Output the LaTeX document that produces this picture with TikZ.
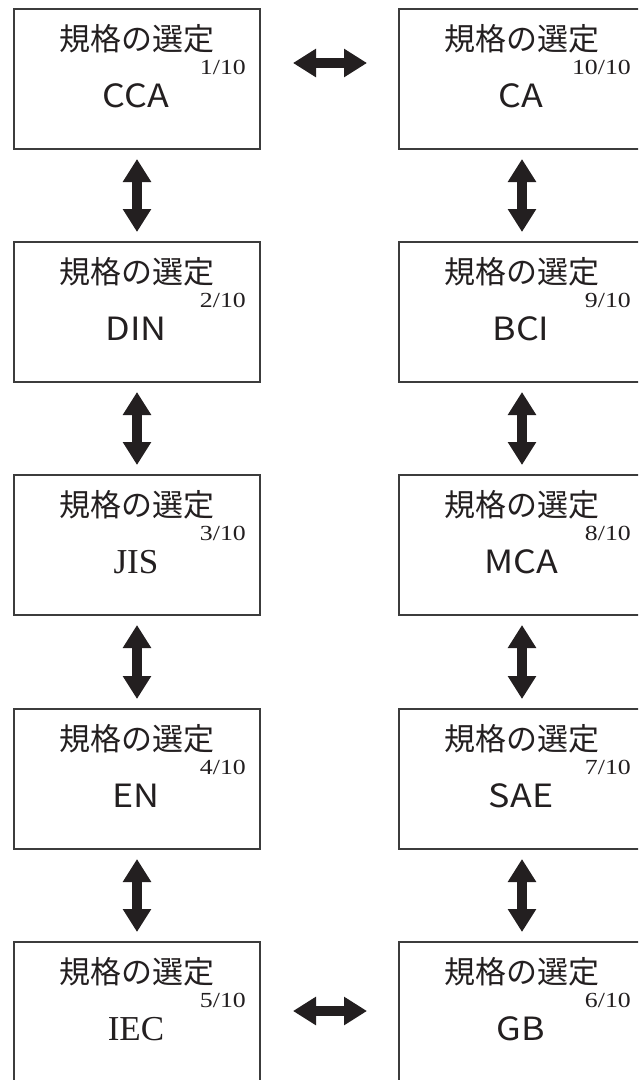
\documentclass[tikz,border=0pt]{standalone}
\usepackage{fontspec}
\newfontfamily\jp{Noto Sans CJK JP}
\newfontfamily\jpw[FakeStretch=1.12]{Noto Sans CJK JP}
\newfontfamily\ser{Liberation Serif}
\newfontfamily\fr[FakeStretch=1.2]{Liberation Serif}
\usetikzlibrary{arrows.meta,calc}
\definecolor{ink}{RGB}{35,31,32}
\definecolor{frame}{RGB}{60,60,60}
\begin{document}
\begin{tikzpicture}[x=1pt,y=-1pt,
  box/.style={draw=frame,line width=2pt,minimum width=246pt,minimum height=140pt,inner sep=0pt,fill=white},
  ttl/.style={font=\jp\fontsize{31}{31}\selectfont,text=ink,anchor=base,inner sep=0pt},
  num/.style={font=\fr\fontsize{21.5}{21.5}\selectfont,text=ink,anchor=base east,inner sep=0pt},
  nm/.style={font=\jpw\fontsize{32}{32}\selectfont,text=ink,anchor=base,inner sep=0pt},
  nms/.style={font=\ser\fontsize{35}{35}\selectfont,text=ink,anchor=base,inner sep=0pt},
  dbl/.style={line width=10pt,draw=ink,{Triangle[length=23pt,width=27pt]}-{Triangle[length=23pt,width=27pt]}}]
\useasboundingbox (0,0) rectangle (638,1080);
\fill[white] (0,0) rectangle (638,1080);
\clip (0,0) rectangle (638,1080);
% boxes
\node[box] (b1) at (137,79) {};
\node[box] (b2) at (137,312) {};
\node[box] (b3) at (137,545) {};
\node[box] (b4) at (137,779) {};
\node[box] (b5) at (137,1012) {};
\node[box] (b10) at (522,79) {};
\node[box] (b9) at (522,312) {};
\node[box] (b8) at (522,545) {};
\node[box] (b7) at (522,779) {};
\node[box] (b6) at (522,1012) {};
% texts
\foreach \b/\n/\f/\s in {b1/CCA/1/nm, b2/DIN/2/nm, b3/JIS/3/nms, b4/EN/4/nm, b5/IEC/5/nms,
                          b10/CA/10/nm, b9/BCI/9/nm, b8/MCA/8/nm, b7/SAE/7/nm, b6/GB/6/nm}{
  \node[ttl] (\b t) at ($(\b.north)+(0,42)$) {規格の選定};
  \node[num] (\b f) at ($(\b.north east)+(-15,66)$) {\f/10};
  \node[\s] (\b n) at ($(\b.north)+(-1,99)$) {\n};
}
% vertical arrows
\foreach \a/\c in {b1/b2, b2/b3, b3/b4, b4/b5, b10/b9, b9/b8, b8/b7, b7/b6}{
  \draw[dbl] ($(\a.south)+(0,9)$) -- ($(\c.north)+(0,-9)$);
}
% horizontal arrows
\draw[dbl] ($(b1.north east)+(32,55)$) -- ($(b10.north west)+(-31,55)$);
\draw[dbl] ($(b5.north east)+(32,70)$) -- ($(b6.north west)+(-31,70)$);
\end{tikzpicture}
\end{document}
